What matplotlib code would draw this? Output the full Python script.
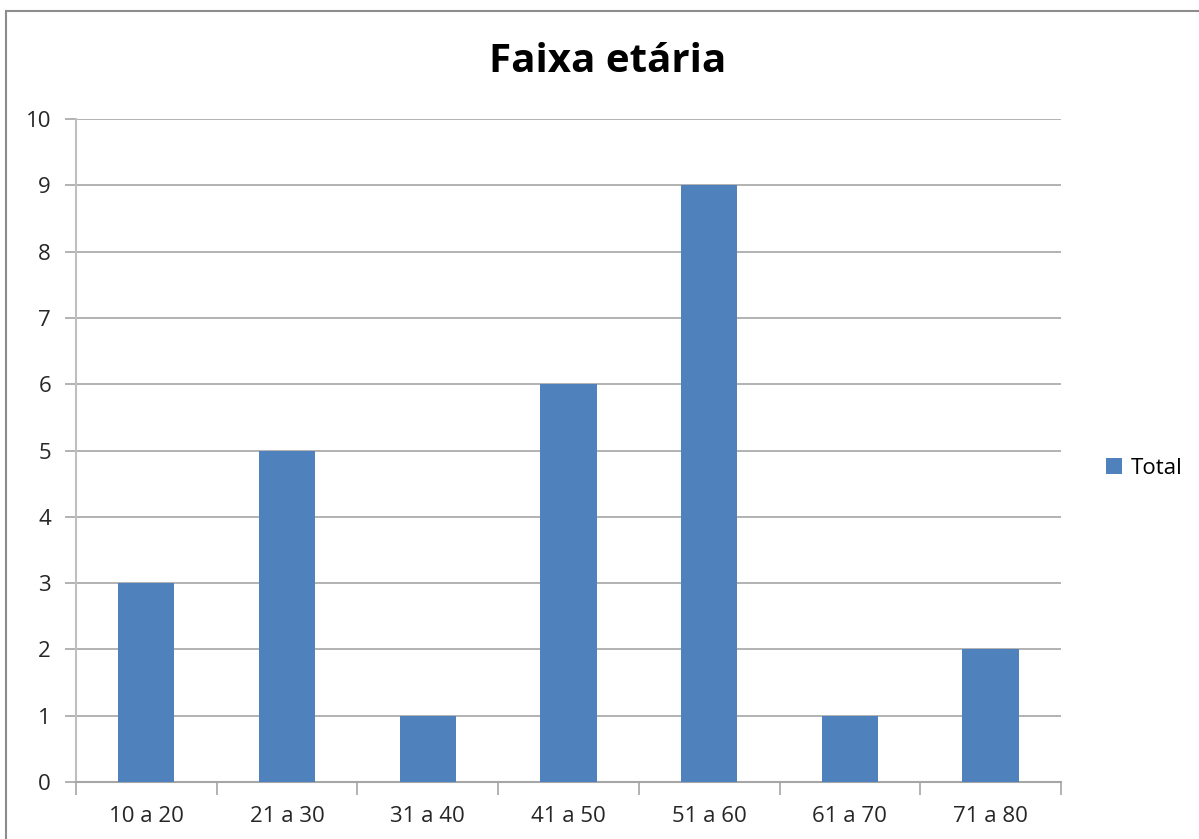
import numpy as np
import matplotlib.pyplot as plt
from matplotlib.patches import Rectangle

faixas = ['10 a 20', '21 a 30', '31 a 40', '41 a 50', '51 a 60', '61 a 70', '71 a 80']
total = [3, 5, 1, 6, 9, 1, 2]

plt.rcParams['font.family'] = ['Open Sans', 'DejaVu Sans']

fig = plt.figure(figsize=(11.99, 8.39), dpi=100)
ax = fig.add_axes([76/1199, 1 - 782/839, (1061 - 76)/1199, (782 - 119)/839])

# outer chart border (cut off at right and bottom like the screenshot)
fig.patches.append(Rectangle((6/1199, -0.1), 1.2, 1 - 11/839 + 0.1,
                             transform=fig.transFigure, fill=False,
                             edgecolor='#8c8c8c', linewidth=1.5))

x = np.arange(len(faixas))
bars = ax.bar(x, total, width=0.4, color='#4F81BD', zorder=3, label='Total')

ax.set_xlim(-0.5, len(faixas) - 0.5)
ax.set_ylim(0, 10)
ax.set_yticks(range(0, 11))
ax.yaxis.grid(True, color='#a6a6a6', linewidth=1.2, zorder=0)

ax.set_xticks(np.arange(-0.5, len(faixas), 1.0))
ax.set_xticklabels([])
ax.set_xticks(x, minor=True)
ax.set_xticklabels(faixas, minor=True, fontsize=16, color='#262626')
ax.tick_params(axis='x', which='major', length=9, color='#a6a6a6', width=1.2)
ax.tick_params(axis='x', which='minor', length=0, pad=17)
ax.tick_params(axis='y', length=8, color='#a6a6a6', width=1.2, labelsize=16,
               labelcolor='#262626', pad=10)

for s in ['top', 'right']:
    ax.spines[s].set_visible(False)
ax.spines['left'].set_color('#bfbfbf')
ax.spines['left'].set_linewidth(1.5)
ax.spines['bottom'].set_color('#a6a6a6')
ax.spines['bottom'].set_linewidth(1.5)

fig.text(608/1199, 1 - 62/839, 'Faixa etária', ha='center', va='center',
         fontsize=29, fontweight='bold', color='black')

fig.legend(handles=[bars], labels=['Total'], loc='center left',
           bbox_to_anchor=(1086/1199, 1 - 468/839), frameon=False,
           fontsize=16, handlelength=0.7, handleheight=0.7, handletextpad=0.4)

fig.savefig('out.png', dpi=100, facecolor='white')
